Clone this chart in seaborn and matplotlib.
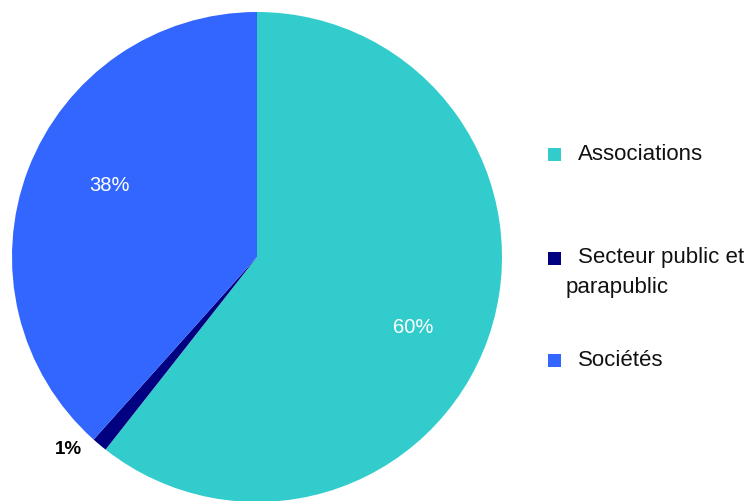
import numpy as np
import matplotlib
matplotlib.use("Agg")
import matplotlib.pyplot as plt
import seaborn as sns
from matplotlib.patches import Rectangle

sns.set_theme(style="white")
plt.rcParams["font.family"] = ["Liberation Sans", "DejaVu Sans"]

categories = ["Associations", "Secteur public et parapublic", "Sociétés"]
legend_labels = ["Associations", "Secteur public et\nparapublic", "Sociétés"]
shares = [60, 1, 38]
pct_labels = ["60%", "1%", "38%"]
colors = ["#33CCCC", "#000080", "#3366FF"]

W, H, DPI = 744, 501, 100
fig = plt.figure(figsize=(W / DPI, H / DPI), dpi=DPI)
fig.patch.set_facecolor("white")

# pie centre (257, 257) px, radius 245 px
cx, cy, r = 257, 257, 245
ax = fig.add_axes([(cx - r) / W, (H - cy - r) / H, 2 * r / W, 2 * r / H])
wedges, _ = ax.pie(shares, colors=colors, startangle=90, counterclock=False,
                   radius=1.0, wedgeprops=dict(linewidth=0))
ax.set_xlim(-1, 1)
ax.set_ylim(-1, 1)
ax.set_aspect("equal")
ax.axis("off")

# percentage labels placed along each wedge's bisector
label_style = {
    0: dict(dist=0.70, color="white", weight="normal", dtheta=-5, size=14.5),
    1: dict(dist=1.10, color="black", weight="bold", dtheta=-4.5, size=13.5),
    2: dict(dist=0.67, color="white", weight="normal", dtheta=-5, size=14.5),
}
for i, w in enumerate(wedges):
    st = label_style[i]
    ang = np.deg2rad((w.theta1 + w.theta2) / 2 + st["dtheta"])
    ax.text(st["dist"] * np.cos(ang), st["dist"] * np.sin(ang), pct_labels[i],
            ha="center", va="center", color=st["color"],
            fontweight=st["weight"], fontsize=st["size"])

# legend drawn as squares with labels on the right
legend_y = [154, 258, 360]
sq = 13
for lab, col, y in zip(legend_labels, colors, legend_y):
    fig.patches.append(Rectangle((548 / W, (H - y - sq / 2) / H), sq / W, sq / H,
                                 transform=fig.transFigure, facecolor=col,
                                 edgecolor="none"))
    lines = lab.split("\n")
    fig.text(578 / W, (H - y) / H, lines[0], ha="left", va="center",
             fontsize=16, color="#111111")
    for k, extra in enumerate(lines[1:], start=1):
        fig.text(566 / W, (H - y - 29 * k) / H, extra, ha="left", va="center",
                 fontsize=16, color="#111111")

fig.savefig("out.png", dpi=DPI, facecolor="white")
